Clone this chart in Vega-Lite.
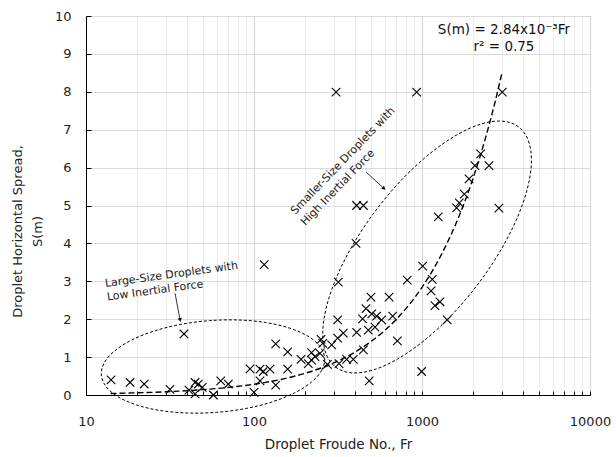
{
  "$schema": "https://vega.github.io/schema/vega-lite/v6.json",
  "width": 504,
  "height": 379,
  "autosize": {"type": "none"},
  "padding": {"left": 86, "top": 16, "right": 26, "bottom": 62},
  "background": "white",
  "config": {
    "font": "DejaVu Sans",
    "view": {"stroke": "#000", "strokeWidth": 1}
  },
  "datasets": {
    "pts": [
      {"Fr": 14.1, "S": 0.40}, {"Fr": 18.3, "S": 0.33}, {"Fr": 22.2, "S": 0.29}, {"Fr": 31.6, "S": 0.15},
      {"Fr": 38.3, "S": 1.61}, {"Fr": 41, "S": 0.13}, {"Fr": 44.6, "S": 0.33}, {"Fr": 44.6, "S": 0.03},
      {"Fr": 46.6, "S": 0.29}, {"Fr": 49.2, "S": 0.20}, {"Fr": 57.3, "S": 0.0}, {"Fr": 63.4, "S": 0.37},
      {"Fr": 70.3, "S": 0.29}, {"Fr": 94.7, "S": 0.69}, {"Fr": 100, "S": 0.07}, {"Fr": 108.6, "S": 0.68},
      {"Fr": 113.6, "S": 0.62}, {"Fr": 108.6, "S": 0.37}, {"Fr": 124.5, "S": 0.68}, {"Fr": 115, "S": 3.44},
      {"Fr": 134.6, "S": 1.35}, {"Fr": 134.6, "S": 0.26}, {"Fr": 158.6, "S": 1.14}, {"Fr": 158.6, "S": 0.68},
      {"Fr": 190.5, "S": 0.94}, {"Fr": 210.5, "S": 0.83}, {"Fr": 220, "S": 1.12}, {"Fr": 220, "S": 0.92},
      {"Fr": 230.7, "S": 1.01}, {"Fr": 247, "S": 1.10}, {"Fr": 250.6, "S": 1.47}, {"Fr": 256.6, "S": 1.36},
      {"Fr": 273.5, "S": 0.81}, {"Fr": 290, "S": 1.32}, {"Fr": 314.8, "S": 1.98}, {"Fr": 314.8, "S": 1.50},
      {"Fr": 317.5, "S": 2.98}, {"Fr": 320.6, "S": 0.83}, {"Fr": 340, "S": 1.63}, {"Fr": 356, "S": 0.94},
      {"Fr": 390, "S": 0.94}, {"Fr": 408, "S": 1.65}, {"Fr": 447.7, "S": 1.19}, {"Fr": 443, "S": 2.01},
      {"Fr": 464, "S": 2.28}, {"Fr": 485, "S": 0.37}, {"Fr": 405, "S": 4.0}, {"Fr": 408, "S": 5.0},
      {"Fr": 448, "S": 5.0}, {"Fr": 479, "S": 1.71}, {"Fr": 525, "S": 1.79}, {"Fr": 497, "S": 2.58},
      {"Fr": 637, "S": 2.58}, {"Fr": 502, "S": 2.14}, {"Fr": 537, "S": 2.08}, {"Fr": 575, "S": 1.98},
      {"Fr": 669, "S": 2.08}, {"Fr": 713, "S": 1.43}, {"Fr": 817, "S": 3.03}, {"Fr": 1009, "S": 3.40},
      {"Fr": 1151, "S": 3.05}, {"Fr": 1132, "S": 2.75}, {"Fr": 1279, "S": 2.46}, {"Fr": 1194, "S": 2.36},
      {"Fr": 1413, "S": 1.98}, {"Fr": 995, "S": 0.62}, {"Fr": 1250, "S": 4.70}, {"Fr": 1607, "S": 4.94},
      {"Fr": 1667, "S": 5.07}, {"Fr": 1786, "S": 5.30}, {"Fr": 1905, "S": 5.70}, {"Fr": 2065, "S": 6.05},
      {"Fr": 2234, "S": 6.36}, {"Fr": 2506, "S": 6.05}, {"Fr": 2870, "S": 4.93}, {"Fr": 3006, "S": 7.99},
      {"Fr": 929, "S": 7.99}, {"Fr": 308, "S": 7.99}
    ],
    "fit": [
      {"Fr": 14, "S": 0.0398}, {"Fr": 20, "S": 0.0568}, {"Fr": 30, "S": 0.0852}, {"Fr": 50, "S": 0.142},
      {"Fr": 75, "S": 0.213}, {"Fr": 100, "S": 0.284}, {"Fr": 150, "S": 0.426}, {"Fr": 200, "S": 0.568},
      {"Fr": 300, "S": 0.852}, {"Fr": 400, "S": 1.136}, {"Fr": 500, "S": 1.42}, {"Fr": 700, "S": 1.988},
      {"Fr": 1000, "S": 2.84}, {"Fr": 1300, "S": 3.692}, {"Fr": 1600, "S": 4.544}, {"Fr": 2000, "S": 5.68},
      {"Fr": 2400, "S": 6.816}, {"Fr": 2700, "S": 7.668}, {"Fr": 3000, "S": 8.52}
    ],
    "ell": [
      {"e": 1, "i": 0, "Fr": 263.4, "S": 0.976}, {"e": 1, "i": 1, "Fr": 253.1, "S": 0.655},
      {"e": 1, "i": 2, "Fr": 219.8, "S": 0.341}, {"e": 1, "i": 3, "Fr": 174.0, "S": 0.055},
      {"e": 1, "i": 4, "Fr": 127.7, "S": -0.184}, {"e": 1, "i": 5, "Fr": 88.7, "S": -0.359},
      {"e": 1, "i": 6, "Fr": 59.8, "S": -0.458}, {"e": 1, "i": 7, "Fr": 40.2, "S": -0.475},
      {"e": 1, "i": 8, "Fr": 27.6, "S": -0.408}, {"e": 1, "i": 9, "Fr": 20.0, "S": -0.262},
      {"e": 1, "i": 10, "Fr": 15.5, "S": -0.047}, {"e": 1, "i": 11, "Fr": 13.16, "S": 0.223},
      {"e": 1, "i": 12, "Fr": 12.34, "S": 0.528}, {"e": 1, "i": 13, "Fr": 12.84, "S": 0.849},
      {"e": 1, "i": 14, "Fr": 14.79, "S": 1.163}, {"e": 1, "i": 15, "Fr": 18.67, "S": 1.449},
      {"e": 1, "i": 16, "Fr": 25.45, "S": 1.688}, {"e": 1, "i": 17, "Fr": 36.64, "S": 1.863},
      {"e": 1, "i": 18, "Fr": 54.36, "S": 1.962}, {"e": 1, "i": 19, "Fr": 80.9, "S": 1.979},
      {"e": 1, "i": 20, "Fr": 117.6, "S": 1.912}, {"e": 1, "i": 21, "Fr": 162.6, "S": 1.766},
      {"e": 1, "i": 22, "Fr": 209.5, "S": 1.551}, {"e": 1, "i": 23, "Fr": 247.0, "S": 1.281},
      {"e": 2, "i": 0, "Fr": 3758, "S": 7.073}, {"e": 2, "i": 1, "Fr": 4301, "S": 6.704},
      {"e": 2, "i": 2, "Fr": 4479, "S": 6.144}, {"e": 2, "i": 3, "Fr": 4231, "S": 5.432},
      {"e": 2, "i": 4, "Fr": 3639, "S": 4.617}, {"e": 2, "i": 5, "Fr": 2880, "S": 3.752},
      {"e": 2, "i": 6, "Fr": 2131, "S": 2.898}, {"e": 2, "i": 7, "Fr": 1504, "S": 2.112},
      {"e": 2, "i": 8, "Fr": 1038, "S": 1.449}, {"e": 2, "i": 9, "Fr": 717.8, "S": 0.953},
      {"e": 2, "i": 10, "Fr": 510.3, "S": 0.658}, {"e": 2, "i": 11, "Fr": 381.4, "S": 0.585},
      {"e": 2, "i": 12, "Fr": 306.0, "S": 0.737}, {"e": 2, "i": 13, "Fr": 267.4, "S": 1.106},
      {"e": 2, "i": 14, "Fr": 256.7, "S": 1.666}, {"e": 2, "i": 15, "Fr": 271.9, "S": 2.378},
      {"e": 2, "i": 16, "Fr": 316.1, "S": 3.193}, {"e": 2, "i": 17, "Fr": 399.4, "S": 4.058},
      {"e": 2, "i": 18, "Fr": 539.8, "S": 4.912}, {"e": 2, "i": 19, "Fr": 764.2, "S": 5.698},
      {"e": 2, "i": 20, "Fr": 1108, "S": 6.361}, {"e": 2, "i": 21, "Fr": 1602, "S": 6.857},
      {"e": 2, "i": 22, "Fr": 2254, "S": 7.152}, {"e": 2, "i": 23, "Fr": 3016, "S": 7.225}
    ],
    "arrows": [
      {"a": 1, "Fr": 33.9, "S": 2.683, "Fr2": 36.3, "S2": 1.979},
      {"a": 2, "Fr": 464.2, "S": 5.884, "Fr2": 594, "S2": 5.449}
    ]
  },
  "encoding": {
    "x": {
      "field": "Fr", "type": "quantitative",
      "scale": {"type": "log", "domain": [10, 10000], "nice": false},
      "axis": {
        "title": "Droplet Froude No., Fr",
        "values": [10, 20, 30, 40, 50, 60, 70, 80, 90, 100, 200, 300, 400, 500, 600, 700, 800, 900, 1000, 2000, 3000, 4000, 5000, 6000, 7000, 8000, 9000, 10000],
        "labelExpr": "(datum.value == 10 || datum.value == 100 || datum.value == 1000 || datum.value == 10000) ? format(datum.value, 'd') : ''",
        "gridColor": {"condition": {"test": "datum.value == 10 || datum.value == 100 || datum.value == 1000 || datum.value == 10000", "value": "#d4d4d4"}, "value": "#ececec"},
        "gridWidth": 1,
        "tickSize": -4, "tickColor": "#000",
        "domainColor": "#000",
        "labelPadding": 24, "labelFontSize": 13, "labelColor": "#222",
        "labelFlush": false, "labelOverlap": false,
        "titleFontSize": 13.5, "titleFontWeight": "normal", "titleColor": "#222",
        "titleY": 49, "titleBaseline": "middle"
      }
    },
    "y": {
      "field": "S", "type": "quantitative",
      "scale": {"domain": [0, 10], "nice": false},
      "axis": {
        "title": ["Droplet Horizontal Spread,", "S(m)"],
        "values": [0, 1, 2, 3, 4, 5, 6, 7, 8, 9, 10],
        "gridColor": "#dadada", "gridWidth": 1,
        "tickSize": -5, "tickColor": "#000",
        "domainColor": "#000",
        "labelPadding": 20, "labelFontSize": 13, "labelColor": "#222",
        "titleFontSize": 13, "titleFontWeight": "normal", "titleColor": "#222",
        "titleX": -69, "titleY": 215, "titleBaseline": "middle", "titleLineHeight": 20, "titleAngle": 270
      }
    }
  },
  "layer": [
    {
      "data": {"name": "ell"},
      "mark": {"type": "line", "interpolate": "cardinal-closed", "stroke": "#000", "strokeWidth": 1, "strokeDash": [3, 2]},
      "encoding": {"detail": {"field": "e"}, "order": {"field": "i", "type": "quantitative"}}
    },
    {
      "data": {"name": "fit"},
      "mark": {"type": "line", "interpolate": "monotone", "stroke": "#000", "strokeWidth": 1.4, "strokeDash": [6, 3]},
      "encoding": {}
    },
    {
      "data": {"name": "pts"},
      "mark": {"type": "point", "shape": "M-1,-1L1,1M-1,1L1,-1", "filled": false, "stroke": "#000", "strokeWidth": 1.1, "size": 72, "opacity": 1},
      "encoding": {}
    },
    {
      "data": {"name": "arrows"},
      "mark": {"type": "rule", "stroke": "#000", "strokeWidth": 0.8},
      "encoding": {"x2": {"field": "Fr2"}, "y2": {"field": "S2"}}
    },
    {
      "data": {"name": "arrows"},
      "transform": [{"filter": "datum.a == 1"}],
      "mark": {"type": "point", "shape": "triangle-down", "filled": true, "fill": "#000", "size": 18, "angle": 349, "opacity": 1},
      "encoding": {"x": {"field": "Fr2", "type": "quantitative"}, "y": {"field": "S2", "type": "quantitative"}}
    },
    {
      "data": {"name": "arrows"},
      "transform": [{"filter": "datum.a == 2"}],
      "mark": {"type": "point", "shape": "triangle-down", "filled": true, "fill": "#000", "size": 18, "angle": 312, "opacity": 1},
      "encoding": {"x": {"field": "Fr2", "type": "quantitative"}, "y": {"field": "S2", "type": "quantitative"}}
    },
    {
      "data": {"values": [
        {"Fr": 3076, "S": 9.63, "t": "S(m) = 2.84x10⁻³Fr"},
        {"Fr": 3076, "S": 9.19, "t": "r² = 0.75"}
      ]},
      "mark": {"type": "text", "align": "center", "baseline": "middle", "fontSize": 13.5, "fill": "#111"},
      "encoding": {"text": {"field": "t"}}
    },
    {
      "data": {"values": [
        {"Fr": 12.97, "S": 2.929, "t": "Large-Size Droplets with"},
        {"Fr": 13.34, "S": 2.573, "t": "Low Inertial Force"}
      ]},
      "mark": {"type": "text", "align": "left", "baseline": "middle", "fontSize": 11, "angle": 352.2, "fill": "#222"},
      "encoding": {"text": {"field": "t"}}
    },
    {
      "data": {"values": [
        {"Fr": 170.7, "S": 4.802, "t": "Smaller-Size Droplets with"},
        {"Fr": 195.7, "S": 4.512, "t": "High Inertial Force"}
      ]},
      "mark": {"type": "text", "align": "left", "baseline": "middle", "fontSize": 11, "angle": 314, "fill": "#222"},
      "encoding": {"text": {"field": "t"}}
    }
  ]
}
